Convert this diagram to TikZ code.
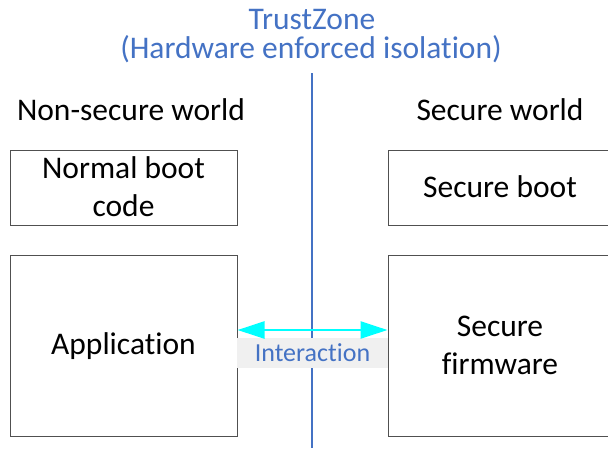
\documentclass[tikz,border=0pt]{standalone}
\usepackage{fontspec}
\setmainfont[Ligatures=NoCommon]{Carlito}
\usetikzlibrary{arrows.meta}
\definecolor{tzblue}{HTML}{4472C4}
\definecolor{boxline}{HTML}{505050}
\definecolor{labelbg}{HTML}{F0F0F0}
\definecolor{arrcyan}{HTML}{00FFFF}
\tikzset{
  box/.style={draw=boxline, line width=1pt, fill=white, inner sep=0pt},
  plain/.style={inner sep=0pt, align=center, font=\fontsize{31.5}{38}\selectfont},
  title/.style={inner sep=0pt, align=center, text=tzblue, font=\fontsize{31.5}{31.5}\selectfont},
}
\begin{document}
\begin{tikzpicture}[x=1pt,y=-1pt]
\useasboundingbox (0,0) rectangle (608,448);
\clip (0,0) rectangle (608,448);
\node[title] (t1) at (312,20) {TrustZone};
\node[title] (t2) at (311,49) {(Hardware enforced isolation)};
\coordinate (ltop) at (312,73);
\coordinate (lbot) at (312,448);
\draw[tzblue, line width=2.5pt] (ltop) -- (lbot);
\node[plain] (nsw) at (131,110) {Non-secure world};
\node[plain] (sw) at (500,110) {Secure world};
\node[box, minimum height=75pt, minimum width=227pt] (nb) at (123.5,187.5) {};
\node[box, minimum height=181pt, minimum width=227pt] (app) at (123.5,345.5) {};
\node[box, minimum height=75pt, minimum width=240pt] (sb) at (508,187.5) {};
\node[box, minimum height=181pt, minimum width=240pt] (sf) at (508,345.5) {};
\node[plain] (nbt) at (123.5,187) {Normal boot\\code};
\node[plain] (appt) at (123.5,346) {Application};
\node[plain] (sbt) at (500,187) {Secure boot};
\node[plain] (sft) at (500,345) {Secure\\firmware};
\node[fill=labelbg, text=tzblue, inner sep=0pt, minimum width=151pt, minimum height=30pt, font=\fontsize{26}{26}\selectfont] (int) at (312.5,353) {Interaction};
\draw[arrcyan, line width=2.5pt, {Triangle[length=27pt,width=17pt]}-{Triangle[length=27pt,width=17pt]}] (app.east |- 0,330) -- (sf.west |- 0,330);
\end{tikzpicture}
\end{document}
